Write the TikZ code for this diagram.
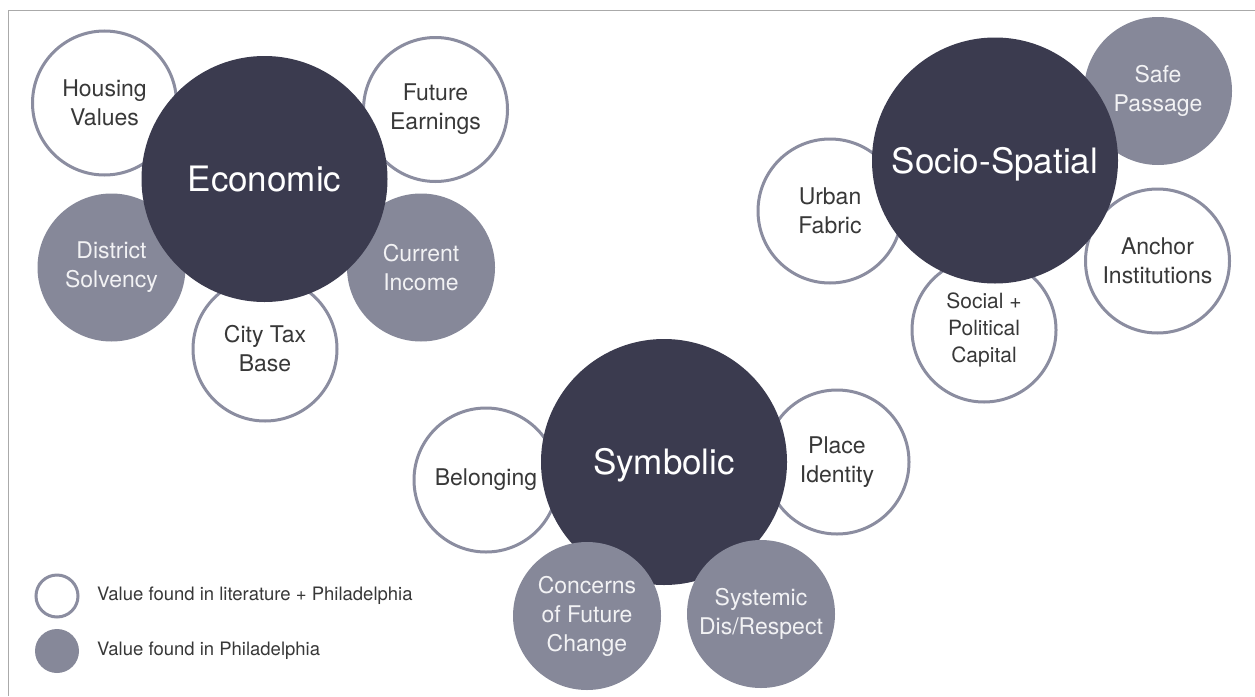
\documentclass[tikz,border=0pt]{standalone}
\usepackage{fontspec}
\setmainfont{TeX Gyre Heros}
\definecolor{darkc}{HTML}{3B3B4F}
\definecolor{grayc}{HTML}{868899}
\definecolor{linec}{HTML}{8B8DA0}
\definecolor{txtc}{HTML}{383838}
\definecolor{framec}{HTML}{AAAAAA}
\definecolor{lighttxt}{HTML}{F2F2F4}
\tikzset{
  bigc/.style={circle, fill=darkc, inner sep=0pt, minimum size=246pt, text=white, text height=25pt, text depth=0pt, font=\fontsize{35}{42}\selectfont},
  openc/.style={circle, draw=linec, line width=3pt, fill=white, inner sep=0pt, minimum size=144pt, text=txtc, align=center, font=\fontsize{23}{29}\selectfont},
  fullc/.style={circle, fill=grayc, inner sep=0pt, minimum size=148pt, text=lighttxt, align=center, font=\fontsize{23}{29}\selectfont},
  legtxt/.style={anchor=west, text=txtc, inner sep=0pt, font=\fontsize{18.5}{22}\selectfont}
}
\begin{document}
\begin{tikzpicture}[x=1pt,y=-1pt]
\useasboundingbox (0,0) rectangle (1255,696);
\fill[white] (0,0) rectangle (1255,696);
\draw[framec, line width=1.5pt] (8.5,696) -- (8.5,10.5) -- (1255,10.5);

% Economic cluster
\node[openc] (housing) at (104.5,103) {Housing\\Values};
\node[openc] (future) at (435.5,109.5) {Future\\Earnings};
\node[fullc] (district) at (111.5,267.5) {District\\Solvency};
\node[fullc] (current) at (421,267.5) {Current\\Income};
\node[openc] (citytax) at (265,349) {City Tax\\Base};
\node[bigc] (economic) at (264.5,179) {Economic};

% Socio-Spatial cluster
\node[fullc] (safe) at (1158,91) {Safe\\Passage};
\node[openc] (urban) at (830,211) {Urban\\Fabric};
\node[openc] (anchor) at (1157.5,261) {Anchor\\Institutions};
\node[openc, font=\fontsize{21}{27}\selectfont] (social) at (984,330) {Social +\\Political\\Capital};
\node[bigc] (socio) at (995,160.5) {Socio-Spatial};

% Symbolic cluster
\node[openc] (belonging) at (486,480) {Belonging};
\node[openc] (place) at (837,462) {Place\\Identity};
\node[bigc] (symbolic) at (664,462) {Symbolic};
\node[fullc] (concerns) at (587,616) {Concerns\\of Future\\Change};
\node[fullc] (systemic) at (761,614) {Systemic\\Dis/Respect};

% Legend
\node[circle, draw=linec, line width=3pt, fill=white, inner sep=0pt, minimum size=42pt] (legopen) at (57,596) {};
\node[circle, fill=grayc, inner sep=0pt, minimum size=44pt] (legfull) at (57,651) {};
\node[legtxt] (legopentxt) at (97,596) {Value found in literature + Philadelphia};
\node[legtxt] (legfulltxt) at (97,651) {Value found in Philadelphia};
\end{tikzpicture}
\end{document}
